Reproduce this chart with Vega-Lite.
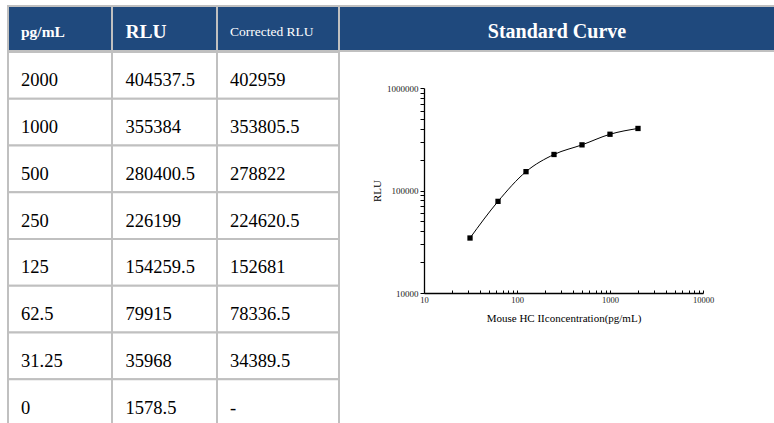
{
  "$schema": "https://vega.github.io/schema/vega-lite/v6.json",
  "padding": {"left": 7, "top": 5, "right": 0, "bottom": 0},
  "background": "white",
  "config": {"font": "Liberation Serif", "view": {"stroke": null}},
  "datasets": {
    "std": [
      {"conc": 2000, "rlu": 404537.5, "corr": 402959},
      {"conc": 1000, "rlu": 355384, "corr": 353805.5},
      {"conc": 500, "rlu": 280400.5, "corr": 278822},
      {"conc": 250, "rlu": 226199, "corr": 224620.5},
      {"conc": 125, "rlu": 154259.5, "corr": 152681},
      {"conc": 62.5, "rlu": 79915, "corr": 78336.5},
      {"conc": 31.25, "rlu": 35968, "corr": 34389.5},
      {"conc": 0, "rlu": 1578.5, "corr": "-"}
    ],
    "head": [{"c1": "pg/mL", "c2": "RLU", "c3": "Corrected  RLU", "c4": "Standard Curve"}]
  },
  "spacing": -3,
  "vconcat": [
    {
      "spacing": 0,
      "bounds": "flush",
      "hconcat": [
        {"width": 104, "height": 45, "data": {"name": "head"},
         "view": {"fill": "#1F497D", "stroke": "#C0C0C0", "strokeWidth": 2},
         "mark": {"type": "text", "align": "left", "dx": -39, "dy": 3, "fontSize": 15.5, "fontWeight": "bold", "color": "white"},
         "encoding": {"text": {"field": "c1"}}},
        {"width": 105, "height": 45, "data": {"name": "head"},
         "view": {"fill": "#1F497D", "stroke": "#C0C0C0", "strokeWidth": 2},
         "mark": {"type": "text", "align": "left", "dx": -39, "dy": 3, "fontSize": 19.5, "fontWeight": "bold", "color": "white"},
         "encoding": {"text": {"field": "c2"}}},
        {"width": 122, "height": 45, "data": {"name": "head"},
         "view": {"fill": "#1F497D", "stroke": "#C0C0C0", "strokeWidth": 2},
         "mark": {"type": "text", "align": "left", "dx": -48, "dy": 3, "fontSize": 13.5, "color": "white"},
         "encoding": {"text": {"field": "c3"}}},
        {"width": 436, "height": 45, "data": {"name": "head"},
         "view": {"fill": "#1F497D", "stroke": "#C0C0C0", "strokeWidth": 2},
         "mark": {"type": "text", "align": "center", "dy": 3, "fontSize": 20, "fontWeight": "bold", "color": "white"},
         "encoding": {"text": {"field": "c4"}}}
      ]
    },
    {
      "spacing": 31,
      "hconcat": [
        {
          "spacing": 0,
          "bounds": "flush",
          "hconcat": [
            {"width": 104, "height": 374, "data": {"name": "std"},
             "encoding": {"y": {"field": "conc", "type": "ordinal", "sort": "descending", "axis": null, "scale": {"paddingInner": 0, "paddingOuter": 0}}},
             "layer": [
               {"mark": {"type": "rect", "fill": "white", "stroke": "#C0C0C0", "strokeWidth": 2}},
               {"mark": {"type": "text", "align": "left", "dx": -39, "dy": 5, "fontSize": 18.5, "color": "black"},
                "encoding": {"text": {"field": "conc", "type": "nominal"}}}
             ]},
            {"width": 105, "height": 374, "data": {"name": "std"},
             "encoding": {"y": {"field": "conc", "type": "ordinal", "sort": "descending", "axis": null, "scale": {"paddingInner": 0, "paddingOuter": 0}}},
             "layer": [
               {"mark": {"type": "rect", "fill": "white", "stroke": "#C0C0C0", "strokeWidth": 2}},
               {"mark": {"type": "text", "align": "left", "dx": -39, "dy": 5, "fontSize": 18.5, "color": "black"},
                "encoding": {"text": {"field": "rlu", "type": "nominal"}}}
             ]},
            {"width": 122, "height": 374, "data": {"name": "std"},
             "encoding": {"y": {"field": "conc", "type": "ordinal", "sort": "descending", "axis": null, "scale": {"paddingInner": 0, "paddingOuter": 0}}},
             "layer": [
               {"mark": {"type": "rect", "fill": "white", "stroke": "#C0C0C0", "strokeWidth": 2}},
               {"mark": {"type": "text", "align": "left", "dx": -48, "dy": 5, "fontSize": 18.5, "color": "black"},
                "encoding": {"text": {"field": "corr", "type": "nominal"}}}
             ]}
          ]
        },
        {
          "width": 279,
          "height": 241,
          "data": {"name": "std"},
          "transform": [{"filter": "datum.conc > 0"}],
          "encoding": {
            "x": {"field": "conc", "type": "quantitative",
                  "scale": {"type": "log", "domain": [10, 10000], "nice": false},
                  "axis": {"title": "Mouse HC IIconcentration(pg/mL)",
                           "values": [10, 20, 30, 40, 50, 60, 70, 80, 90, 100, 200, 300, 400, 500, 600, 700, 800, 900, 1000, 2000, 3000, 4000, 5000, 6000, 7000, 8000, 9000, 10000],
                           "labelExpr": "(datum.value == 10 || datum.value == 100 || datum.value == 1000 || datum.value == 10000) ? format(datum.value, 'd') : ''",
                           "labelOverlap": false, "labelFlush": false, "grid": false,
                           "tickSize": -3, "tickColor": "black", "domainColor": "black", "domainWidth": 1.3,
                           "labelFontSize": 8.5, "labelColor": "#222", "labelPadding": 5,
                           "titleFontSize": 11, "titleFontWeight": "normal", "titleColor": "black", "titlePadding": 9}},
            "y": {"field": "corr", "type": "quantitative",
                  "scale": {"type": "log", "domain": [10000, 1000000], "nice": false, "range": [241, 36]},
                  "axis": {"title": "RLU",
                           "values": [10000, 20000, 30000, 40000, 50000, 60000, 70000, 80000, 90000, 100000, 200000, 300000, 400000, 500000, 600000, 700000, 800000, 900000, 1000000],
                           "labelExpr": "(datum.value == 10000 || datum.value == 100000 || datum.value == 1000000) ? format(datum.value, 'd') : ''",
                           "labelOverlap": false, "labelFlush": false, "grid": false,
                           "tickSize": 4, "tickColor": "black", "domainColor": "black", "domainWidth": 1.3,
                           "labelFontSize": 9, "labelColor": "#222", "labelPadding": 2,
                           "titleFontSize": 11, "titleFontWeight": "normal", "titleColor": "black", "titlePadding": 4}}
          },
          "layer": [
            {"mark": {"type": "line", "color": "black", "strokeWidth": 1, "interpolate": "monotone"}},
            {"mark": {"type": "square", "color": "black", "filled": true, "opacity": 1, "size": 28}}
          ]
        }
      ]
    }
  ]
}
